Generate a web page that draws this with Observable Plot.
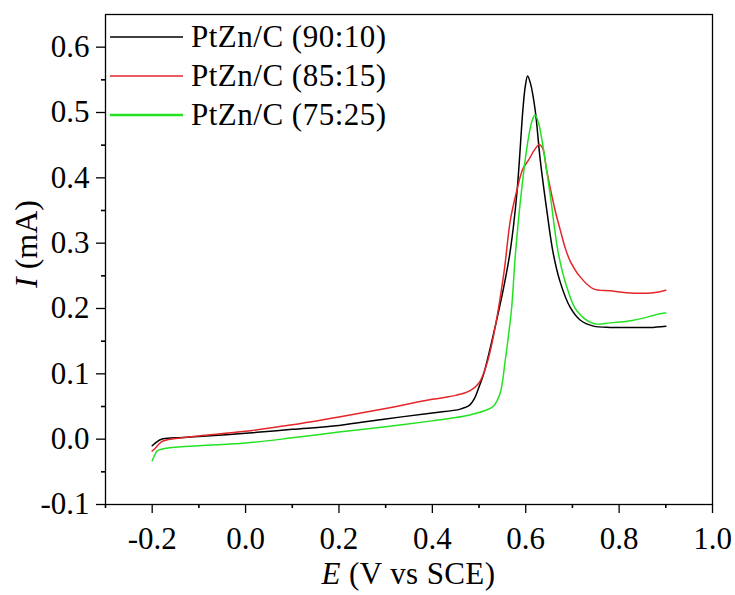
<!DOCTYPE html>
<html>
<head>
<meta charset="utf-8">
<script src="https://cdn.jsdelivr.net/npm/d3@7"></script>
<script src="https://cdn.jsdelivr.net/npm/@observablehq/plot@0.6"></script>
<style>
  html, body { margin: 0; padding: 0; background: #fff; }
  #wrap { position: relative; width: 735px; height: 595px; font-family: 'Liberation Serif'; color: #000; overflow: hidden; }
  #wrap svg text { font-family: 'Liberation Serif'; }
  .legend { position: absolute; left: 110px; top: 17px; }
  .row { display: flex; align-items: center; height: 39px; }
  .sw { display: block; margin-right: 8px; }
  .lab { font-family: 'Liberation Serif'; font-size: 31px; letter-spacing: 0.5px; line-height: 39px; white-space: nowrap; }
  .xt { position: absolute; left: 105px; width: 607px; top: 558px; text-align: center; font-family: 'Liberation Serif'; font-size: 31px; line-height: 32px; white-space: nowrap; letter-spacing: 0.4px; }
  .yt { position: absolute; left: 26px; top: 244px; transform: translate(-50%, -50%) rotate(-90deg); font-family: 'Liberation Serif'; font-size: 32px; white-space: nowrap; line-height: 32px; }
</style>
</head>
<body>
<div id="wrap"></div>
<script>
// ---- data ----
const seriesNames = ["PtZn/C (90:10)", "PtZn/C (85:15)", "PtZn/C (75:25)"];
const seriesColors = ["#000000", "#e3262a", "#22e222"];

const blackE = [-0.2, -0.19, -0.18, -0.15, -0.1, 0.0, 0.1, 0.2, 0.3, 0.4, 0.46, 0.48, 0.49, 0.50, 0.51, 0.53, 0.553, 0.567, 0.581, 0.594, 0.599, 0.604, 0.610, 0.620, 0.631, 0.645, 0.659, 0.674, 0.695, 0.717, 0.745, 0.781, 0.82, 0.866, 0.9];
const blackI = [-0.010, -0.004, 0.000, 0.002, 0.004, 0.009, 0.015, 0.021, 0.031, 0.040, 0.046, 0.052, 0.062, 0.080, 0.100, 0.158, 0.233, 0.289, 0.376, 0.505, 0.540, 0.556, 0.545, 0.505, 0.428, 0.351, 0.284, 0.240, 0.202, 0.182, 0.173, 0.171, 0.171, 0.171, 0.173];

const redE = [-0.2, -0.195, -0.18, -0.15, -0.1, 0.0, 0.1, 0.2, 0.3, 0.4, 0.45, 0.48, 0.50, 0.517, 0.531, 0.553, 0.567, 0.58, 0.594, 0.606, 0.618, 0.629, 0.636, 0.645, 0.663, 0.674, 0.684, 0.695, 0.717, 0.745, 0.781, 0.816, 0.873, 0.9];
const redI = [-0.018, -0.015, -0.004, 0.001, 0.005, 0.012, 0.022, 0.034, 0.047, 0.061, 0.067, 0.074, 0.086, 0.116, 0.158, 0.253, 0.335, 0.378, 0.414, 0.427, 0.442, 0.451, 0.446, 0.411, 0.350, 0.320, 0.294, 0.273, 0.248, 0.230, 0.227, 0.224, 0.224, 0.228];

const greenE = [-0.2, -0.195, -0.189, -0.17, -0.1, 0.0, 0.1, 0.2, 0.3, 0.4, 0.45, 0.48, 0.51, 0.53, 0.545, 0.556, 0.565, 0.570, 0.578, 0.592, 0.606, 0.614, 0.620, 0.627, 0.635, 0.652, 0.670, 0.688, 0.709, 0.745, 0.781, 0.831, 0.888, 0.9];
const greenI = [-0.033, -0.025, -0.018, -0.014, -0.010, -0.006, 0.002, 0.011, 0.019, 0.028, 0.033, 0.037, 0.043, 0.050, 0.070, 0.120, 0.170, 0.202, 0.284, 0.387, 0.462, 0.488, 0.496, 0.485, 0.457, 0.376, 0.284, 0.233, 0.197, 0.177, 0.178, 0.182, 0.192, 0.193];

const xTicks = [-0.2, 0.0, 0.2, 0.4, 0.6, 0.8, 1.0];
const xMinor = [-0.3, -0.1, 0.1, 0.3, 0.5, 0.7, 0.9];
const yTicks = [-0.1, 0.0, 0.1, 0.2, 0.3, 0.4, 0.5, 0.6];
const yMinor = [-0.05, 0.05, 0.15, 0.25, 0.35, 0.45, 0.55];

// ---- build table ----
const rows = [];
[[blackE, blackI], [redE, redI], [greenE, greenI]].forEach(([E, I], k) => {
  E.forEach((e, i) => rows.push({E: e, I: I[i], series: seriesNames[k]}));
});

const fmt = d => d.toFixed(1);

const chart = Plot.plot({
  width: 735,
  height: 595,
  marginLeft: 105,
  marginRight: 23,
  marginTop: 14,
  marginBottom: 91,
  style: {fontFamily: "Liberation Serif", fontSize: "31px", color: "#000", background: "#fff"},
  x: {domain: [-0.3, 1.0]},
  y: {domain: [-0.1, 0.65]},
  color: {domain: seriesNames, range: seriesColors},
  marks: [
    Plot.axisX(xMinor, {tickSize: 4, text: null, label: null, strokeWidth: 1.6}),
    Plot.axisX(xTicks, {tickSize: 9, tickPadding: 13, tickFormat: fmt, label: null, strokeWidth: 1.3}),
    Plot.axisY(yMinor, {tickSize: 4, text: null, label: null, strokeWidth: 1.6}),
    Plot.axisY(yTicks, {tickSize: 9, tickPadding: 7, tickFormat: fmt, label: null, strokeWidth: 1.3}),
    Plot.line(rows, {x: "E", y: "I", z: "series", stroke: "series", strokeWidth: 1.5, curve: "catmull-rom"}),
    Plot.frame({stroke: "#000", strokeWidth: 1.3})
  ]
});

const wrap = document.getElementById("wrap");
wrap.appendChild(chart);

// legend
const leg = document.createElement("div");
leg.className = "legend";
seriesNames.forEach((n, k) => {
  const r = document.createElement("div");
  r.className = "row";
  const sw = document.createElementNS("http://www.w3.org/2000/svg", "svg");
  sw.setAttribute("width", "73");
  sw.setAttribute("height", "6");
  sw.setAttribute("class", "sw");
  const ln = document.createElementNS("http://www.w3.org/2000/svg", "line");
  ln.setAttribute("x1", "0"); ln.setAttribute("x2", "73");
  ln.setAttribute("y1", "3"); ln.setAttribute("y2", "3");
  ln.setAttribute("stroke", seriesColors[k]);
  ln.setAttribute("stroke-width", k === 2 ? "2.5" : "1.5");
  sw.appendChild(ln);
  const t = document.createElement("span");
  t.className = "lab";
  t.textContent = n;
  r.appendChild(sw); r.appendChild(t);
  leg.appendChild(r);
});
wrap.appendChild(leg);

// axis titles
const xt = document.createElement("div");
xt.className = "xt";
xt.innerHTML = "<i>E</i> (V vs SCE)";
wrap.appendChild(xt);
const yt = document.createElement("div");
yt.className = "yt";
yt.innerHTML = "<i>I</i> (mA)";
wrap.appendChild(yt);
</script>
</body>
</html>
